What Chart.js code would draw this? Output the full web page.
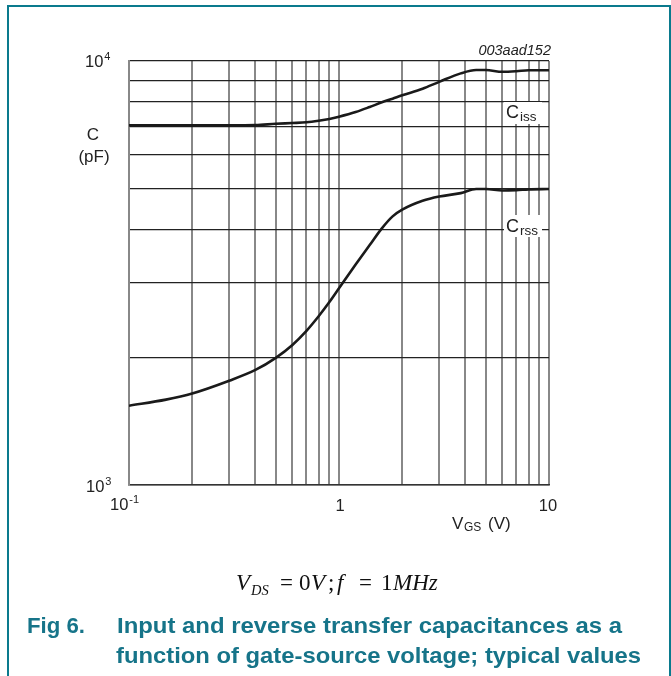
<!DOCTYPE html>
<html>
<head>
<meta charset="utf-8">
<script src="https://cdn.jsdelivr.net/npm/chart.js@4.4.1/dist/chart.umd.min.js"></script>
<style>
  html, body { margin: 0; padding: 0; background: #fff; }
  #wrap { position: relative; width: 671px; height: 676px; }
</style>
</head>
<body>
<div id="wrap"><canvas id="myChart" width="671" height="676"></canvas></div>
<script>
// gate-source voltage (V)
const vgs = [0.1, 0.15, 0.2, 0.3, 0.4, 0.5, 0.6, 0.7, 0.8, 0.9, 1.0, 1.2, 1.4, 1.6, 1.8, 2.0, 2.5, 3.0, 3.8, 4.5, 5.0, 6.0, 7.0, 8.0, 10];
// input capacitance (pF)
const ciss = [7050, 7050, 7050, 7050, 7060, 7110, 7140, 7170, 7230, 7300, 7390, 7580, 7790, 7990, 8150, 8300, 8600, 8930, 9350, 9520, 9520, 9430, 9460, 9510, 9510];
// reverse transfer capacitance (pF)
const crss = [1538, 1590, 1644, 1762, 1868, 1995, 2140, 2310, 2500, 2700, 2910, 3310, 3680, 4030, 4300, 4460, 4680, 4790, 4880, 4990, 4990, 4950, 4960, 4980, 4990];

// grid lines
const xGrid = [0.1, 0.2, 0.3, 0.4, 0.5, 0.6, 0.7, 0.8, 0.9, 1, 2, 3, 4, 5, 6, 7, 8, 9, 10];
const yGrid = [1000, 2000, 3000, 4000, 5000, 6000, 7000, 8000, 9000, 10000];

const SANS = '"Liberation Sans", Arial, sans-serif';
const SERIF = '"Liberation Serif", "Times New Roman", serif';
const TEAL = '#167489';

function toPoints(ys) {
  return vgs.map((v, i) => ({ x: v, y: ys[i] }));
}

// text with superscript, e.g. 10^4
function supText(ctx, base, sup, x, y, size) {
  ctx.font = size + 'px ' + SANS;
  ctx.textAlign = 'left';
  ctx.fillText(base, x, y);
  const w = ctx.measureText(base).width;
  ctx.font = Math.round(size * 0.68) + 'px ' + SANS;
  ctx.fillText(sup, x + w + 1, y - 7);
}

// text stretched to span x0..x1
function fitText(ctx, str, x0, x1, y) {
  const w = ctx.measureText(str).width;
  ctx.save();
  ctx.translate(x0, y);
  ctx.scale((x1 - x0) / w, 1);
  ctx.fillText(str, 0, 0);
  ctx.restore();
}

const annot = {
  id: 'annot',
  beforeDatasetsDraw(chart) {
    const ctx = chart.ctx;
    ctx.save();
    ctx.fillStyle = '#fff';
    ctx.fillRect(504, 102, 38, 22);
    ctx.fillRect(504, 215, 38, 22);
    ctx.restore();
  },
  afterDraw(chart) {
    const ctx = chart.ctx;
    const xs = chart.scales.x, ys = chart.scales.y;
    ctx.save();
    ctx.fillStyle = '#222';
    ctx.textBaseline = 'alphabetic';

    // y tick labels
    supText(ctx, '10', '4', 85, ys.getPixelForValue(10000) + 6, 16.5);
    supText(ctx, '10', '3', 86, ys.getPixelForValue(1000) + 7, 16.5);

    // x tick labels
    supText(ctx, '10', '-1', 110, 510, 16.5);
    ctx.font = '16.5px ' + SANS;
    ctx.textAlign = 'center';
    ctx.fillText('1', xs.getPixelForValue(1) + 1, 511);
    ctx.fillText('10', xs.getPixelForValue(10) - 1, 511);

    // y axis title
    ctx.font = '17px ' + SANS;
    ctx.fillText('C', 93, 140);
    ctx.fillText('(pF)', 94, 162);

    // x axis title
    ctx.textAlign = 'left';
    ctx.font = '17px ' + SANS;
    ctx.fillText('V', 452, 529);
    ctx.font = '12px ' + SANS;
    ctx.fillText('GS', 464, 531);
    ctx.font = '17px ' + SANS;
    ctx.fillText('(V)', 488, 529);

    // figure code
    ctx.font = 'italic 14.5px ' + SANS;
    ctx.textAlign = 'right';
    ctx.fillText('003aad152', 551, 55);

    // curve labels
    ctx.textAlign = 'left';
    ctx.font = '18px ' + SANS;
    ctx.fillText('C', 506, 118);
    ctx.fillText('C', 506, 232);
    ctx.font = '13.5px ' + SANS;
    ctx.fillText('iss', 520, 121);
    ctx.fillText('rss', 520, 235);

    // conditions line, one piece at a time
    ctx.fillStyle = '#111';
    const by = 590;
    const it = 'italic 23px ' + SERIF, up = '23px ' + SERIF;
    ctx.font = it; ctx.fillText('V', 236, by);
    ctx.font = 'italic 14.5px ' + SERIF; ctx.fillText('DS', 251, by + 5);
    ctx.font = up; ctx.fillText('=', 280, by);
    ctx.fillText('0', 299, by);
    ctx.font = it; ctx.fillText('V', 311, by);
    ctx.font = up; ctx.fillText(';', 328, by);
    ctx.font = it; ctx.fillText('f', 337, by);
    ctx.font = up; ctx.fillText('=', 359, by);
    ctx.fillText('1', 381, by);
    ctx.font = it; ctx.fillText('MHz', 393, by);

    // caption
    ctx.fillStyle = TEAL;
    ctx.font = 'bold 22px ' + SANS;
    fitText(ctx, 'Fig 6.', 27, 85, 633);
    fitText(ctx, 'Input and reverse transfer capacitances as a', 117, 622, 633);
    fitText(ctx, 'function of gate-source voltage; typical values', 116, 641, 663);

    // frame
    ctx.strokeStyle = '#0a7a8d';
    ctx.lineWidth = 2;
    ctx.beginPath();
    ctx.moveTo(8, 676);
    ctx.lineTo(8, 6);
    ctx.lineTo(670, 6);
    ctx.lineTo(670, 676);
    ctx.stroke();
    ctx.restore();
  }
};

const ctx = document.getElementById('myChart').getContext('2d');
const chart = new Chart(ctx, {
  type: 'line',
  data: {
    datasets: [
      { label: 'Ciss', data: toPoints(ciss) },
      { label: 'Crss', data: toPoints(crss) }
    ]
  },
  options: {
    responsive: false,
    animation: false,
    events: [],
    layout: { padding: { left: 129, right: 122, top: 61, bottom: 191 } },
    elements: {
      point: { radius: 0 },
      line: { borderColor: '#1a1a1a', borderWidth: 2.6, cubicInterpolationMode: 'monotone', fill: false }
    },
    plugins: { legend: { display: false }, tooltip: { enabled: false } },
    scales: {
      x: {
        type: 'logarithmic',
        min: 0.1,
        max: 10,
        afterBuildTicks: (s) => { s.ticks = xGrid.map(v => ({ value: v })); },
        ticks: { display: false, autoSkip: false },
        grid: { color: '#888', lineWidth: 2, drawTicks: false },
        border: { display: true, color: '#333', width: 1.5 }
      },
      y: {
        type: 'logarithmic',
        min: 1000,
        max: 10000,
        afterBuildTicks: (s) => { s.ticks = yGrid.map(v => ({ value: v })); },
        ticks: { display: false, autoSkip: false },
        grid: { color: '#222', lineWidth: 1.2, drawTicks: false },
        border: { display: true, color: '#888', width: 2 }
      }
    }
  },
  plugins: [annot]
});
</script>
</body>
</html>
